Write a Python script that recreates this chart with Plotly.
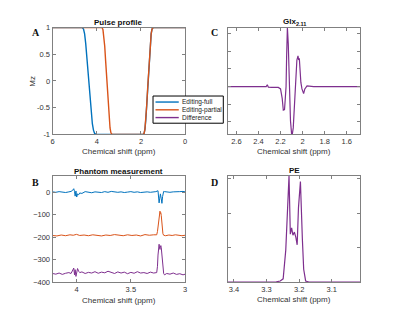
import plotly.graph_objects as go

# ---------------- data ----------------
# Panel A: pulse profile (Mz vs chemical shift)
a_full_x = [6, 4.66, 4.6, 4.55, 4.5, 4.45, 4.4, 4.35, 4.3, 4.25, 4.2, 4.15, 4.1, 4.04,
            1.9, 1.86, 1.82, 1.78, 1.74, 1.7, 1.66, 1.62, 1.58, 1.54, 1.5, 1.45, 0]
a_full_y = [1, 1, 0.97, 0.88, 0.7, 0.45, 0.2, -0.08, -0.35, -0.6, -0.8, -0.92, -0.98, -1,
            -1, -0.98, -0.9, -0.72, -0.45, -0.15, 0.15, 0.45, 0.7, 0.88, 0.97, 1, 1]
a_part_x = [6, 3.76, 3.72, 3.68, 3.64, 3.6, 3.56, 3.52, 3.48, 3.44, 3.4, 3.36, 3.31,
            1.9, 1.86, 1.82, 1.78, 1.74, 1.7, 1.66, 1.62, 1.58, 1.54, 1.5, 1.45, 0]
a_part_y = [1, 1, 0.96, 0.85, 0.65, 0.38, 0.1, -0.2, -0.48, -0.72, -0.88, -0.97, -1,
            -1, -0.98, -0.9, -0.72, -0.45, -0.15, 0.15, 0.45, 0.7, 0.88, 0.97, 1, 1]

# Panel B: phantom measurement
b_full_x = [4.22, 4.19, 4.16, 4.13, 4.1, 4.07, 4.05, 4.035, 4.025, 4.018, 4.012, 4.005,
            3.998, 3.99, 3.98, 3.97, 3.95, 3.92, 3.89, 3.86, 3.83, 3.8, 3.77, 3.74, 3.71,
            3.68, 3.65, 3.62, 3.59, 3.56, 3.53, 3.5, 3.47, 3.44, 3.41, 3.38, 3.35, 3.32,
            3.29, 3.27, 3.25, 3.245, 3.24, 3.235, 3.228, 3.22, 3.214, 3.208, 3.203, 3.198,
            3.19, 3.17, 3.14, 3.11, 3.08, 3.05, 3.02, 3.0]
b_full_y = [1, -1, 2, 0, -2, 1, 3, 8, 15, 2, -18, 5,
            -22, -8, -12, -4, -6, 2, -1, -3, 1, 0, -2, 2, -1,
            3, 0, -1, 1, -2, 0, 2, -1, 1, -2, 0, 1, -1,
            0, 2, 6, -25, -48, -30, -8, -30, -50, -20, 2, 3,
            2, 0, -1, 1, 0, 2, 3, 1]
b_part_x = [4.22, 4.18, 4.14, 4.1, 4.06, 4.03, 4.0, 3.97, 3.93, 3.89, 3.85, 3.81, 3.77,
            3.73, 3.69, 3.65, 3.61, 3.57, 3.53, 3.49, 3.45, 3.41, 3.37, 3.33, 3.29, 3.262,
            3.255, 3.248, 3.242, 3.236, 3.232, 3.228, 3.224, 3.22, 3.215, 3.21, 3.205,
            3.198, 3.18, 3.15, 3.12, 3.09, 3.06, 3.03, 3.0]
b_part_y = [-193, -195, -191, -194, -190, -192, -188, -193, -191, -194, -190, -192, -195,
            -191, -193, -189, -192, -194, -190, -193, -191, -195, -189, -192, -190, -190,
            -175, -140, -110, -95, -85, -95, -92, -105, -135, -165, -185,
            -192, -194, -191, -193, -190, -192, -194, -192]
b_diff_x = [4.22, 4.19, 4.16, 4.13, 4.1, 4.07, 4.05, 4.035, 4.025, 4.018, 4.012, 4.005,
            3.998, 3.99, 3.98, 3.97, 3.95, 3.92, 3.89, 3.86, 3.83, 3.8, 3.77, 3.74, 3.71,
            3.68, 3.65, 3.62, 3.59, 3.56, 3.53, 3.5, 3.47, 3.44, 3.41, 3.38, 3.35, 3.32,
            3.29, 3.262, 3.255, 3.25, 3.245, 3.24, 3.236, 3.232, 3.228, 3.224, 3.22, 3.215,
            3.21, 3.205, 3.198, 3.19, 3.17, 3.14, 3.11, 3.08, 3.05, 3.02, 3.0]
b_diff_y = [-362, -365, -360, -366, -361, -358, -362, -350, -338, -368, -345, -375,
            -348, -340, -352, -358, -355, -362, -357, -360, -354, -361, -356, -359, -352,
            -358, -362, -355, -360, -356, -363, -357, -361, -354, -360, -358, -362, -356,
            -360, -358, -330, -280, -240, -232, -250, -255, -245, -238, -248, -280,
            -320, -350, -362, -368, -362, -365, -360, -366, -363, -368, -365]

# Panel C: Glx 2.11 difference spectrum (a.u.)
c_x = [2.68, 2.4, 2.33, 2.32, 2.31, 2.28, 2.22, 2.2, 2.185, 2.175, 2.164, 2.157, 2.15,
       2.145, 2.138, 2.13, 2.12, 2.11, 2.1, 2.093, 2.085, 2.075, 2.063, 2.052, 2.042,
       2.036, 2.03, 2.024, 2.016, 2.006, 1.991, 1.98, 1.96, 1.9, 1.48]
c_y = [0.0, 0.0, 0.0, 0.03, -0.01, -0.015, -0.015, -0.04, -0.2, -0.4, -0.39, -0.2, 0.0,
       0.5, 1.0, 0.72, -0.04, -0.58, -0.8, -0.8, -0.7, -0.3, 0.02, 0.45, 0.52,
       0.45, 0.48, 0.23, 0.07, -0.04, -0.12, -0.04, 0.01, 0.0, 0.0]

# Panel D: PE difference spectrum (a.u.)
d_x = [3.42, 3.3, 3.27, 3.258, 3.249, 3.241, 3.236, 3.231, 3.227, 3.223, 3.219,
       3.2145, 3.21, 3.206, 3.202, 3.196, 3.19, 3.186, 3.18, 3.17, 3.1, 3.01]
d_y = [0.0, 0.0, 0.002, 0.01, 0.03, 0.3, 0.7, 1.0, 0.45, 0.51, 0.44,
       0.47, 0.42, 0.35, 0.7, 0.945, 0.4, 0.12, 0.01, 0.0, 0.0, 0.0]

series_names = ["Editing-full", "Editing-partial", "Difference"]
colors = ["#0072BD", "#D95319", "#7E2F8E"]

a_xticks = [6, 4, 2, 0]
a_yticks = [1, 0.5, 0, -0.5, -1]
b_xticks = [4, 3.5, 3]
b_yticks = [0, -100, -200, -300, -400]
c_xticks = [2.6, 2.4, 2.2, 2.0, 1.8, 1.6]
d_xticks = [3.4, 3.3, 3.2, 3.1]

# ---------------- figure ----------------
# The page body has an 8px margin, so the figure is drawn 8px in from the window edge.
OFF = 8
W, H = 400 - OFF, 322 - OFF
fig = go.Figure()

def px_x(p):
    return (p - OFF) / W

def px_y(p):
    return 1 - (p - OFF) / H

fig.add_trace(go.Scatter(x=a_full_x, y=a_full_y, mode="lines", name=series_names[0],
                         line=dict(color=colors[0], width=1.4), xaxis="x", yaxis="y"))
fig.add_trace(go.Scatter(x=a_part_x, y=a_part_y, mode="lines", name=series_names[1],
                         line=dict(color=colors[1], width=1.4), xaxis="x", yaxis="y"))

fig.add_trace(go.Scatter(x=b_full_x, y=b_full_y, mode="lines", name=series_names[0],
                         line=dict(color=colors[0], width=1), xaxis="x2", yaxis="y2"))
fig.add_trace(go.Scatter(x=b_part_x, y=b_part_y, mode="lines", name=series_names[1],
                         line=dict(color=colors[1], width=1), xaxis="x2", yaxis="y2"))
fig.add_trace(go.Scatter(x=b_diff_x, y=b_diff_y, mode="lines", name=series_names[2],
                         line=dict(color=colors[2], width=1), xaxis="x2", yaxis="y2"))

fig.add_trace(go.Scatter(x=c_x, y=c_y, mode="lines", name=series_names[2],
                         line=dict(color=colors[2], width=1.2), xaxis="x3", yaxis="y3"))
fig.add_trace(go.Scatter(x=d_x, y=d_y, mode="lines", name=series_names[2],
                         line=dict(color=colors[2], width=1.2), xaxis="x4", yaxis="y4"))

FONT = "Liberation Sans, Arial, sans-serif"
tickfont = dict(family=FONT, size=7.5, color="#333333")
axis_common = dict(showline=True, linecolor="#808080", linewidth=1, mirror="ticks",
                   ticks="inside", ticklen=3, tickcolor="#808080", tickfont=tickfont,
                   showgrid=False, zeroline=False, fixedrange=True)

dom_left = [px_x(51), px_x(185)]
dom_right = [px_x(228), px_x(362)]
dom_top = [px_y(134), px_y(24)]
dom_bot = [px_y(286), px_y(176.5)]

fig.update_layout(
    width=W, height=H, margin=dict(l=0, r=0, t=0, b=0),
    paper_bgcolor="white", plot_bgcolor="white",
    showlegend=False,
    xaxis=dict(domain=dom_left, anchor="y", range=[6, 0], tickvals=a_xticks, **axis_common),
    yaxis=dict(domain=dom_top, anchor="x", range=[-1, 1], tickvals=a_yticks,
               ticktext=["1", "0.5", "0", "-0.5", "-1"], **axis_common),
    xaxis2=dict(domain=dom_left, anchor="y2", range=[4.22, 3.0], tickvals=b_xticks,
                ticktext=["4", "3.5", "3"], **axis_common),
    yaxis2=dict(domain=dom_bot, anchor="x2", range=[-400, 73], tickvals=b_yticks, **axis_common),
    xaxis3=dict(domain=dom_right, anchor="y3", range=[2.678, 1.477], tickvals=c_xticks,
                ticktext=["2.6", "2.4", "2.2", "2", "1.8", "1.6"], **axis_common),
    yaxis3=dict(domain=dom_top, anchor="x3", range=[-0.81, 1.0], tick0=0, dtick=0.3,
                showticklabels=False, **axis_common),
    xaxis4=dict(domain=dom_right, anchor="y4", range=[3.419, 3.012], tickvals=d_xticks,
                **axis_common),
    yaxis4=dict(domain=dom_bot, anchor="x4", range=[0, 1.0], tick0=0, dtick=0.323,
                showticklabels=False, **axis_common),
)

# ---- compact MATLAB-style legend (box, sample lines, labels) ----
shapes = [dict(type="rect", xref="paper", yref="paper",
               x0=px_x(152.5), x1=px_x(223.5), y0=px_y(122.5), y1=px_y(94.5),
               line=dict(color="#000000", width=1), fillcolor="white", layer="above")]
legend_rows = [100.7, 108.7, 116.7]
ann = []
for name, col, yy in zip(series_names, colors, legend_rows):
    shapes.append(dict(type="line", xref="paper", yref="paper",
                       x0=px_x(155), x1=px_x(178.5), y0=px_y(yy), y1=px_y(yy),
                       line=dict(color=col, width=1.4), layer="above"))
    ann.append(dict(text=name, x=px_x(180), y=px_y(yy), xref="paper", yref="paper",
                    showarrow=False, xanchor="left", yanchor="middle",
                    font=dict(family=FONT, size=6.5, color="#222222")))
fig.update_layout(shapes=shapes)

title_font = dict(family=FONT, size=8, color="#111111")
label_font = dict(family=FONT, size=8, color="#333333")
letter_font = dict(family="Liberation Serif, Times New Roman, serif", size=10, color="#111111")

def add_text(text, x, y, font, angle=0):
    ann.append(dict(text=text, x=px_x(x), y=px_y(y), xref="paper", yref="paper",
                    showarrow=False, font=font, xanchor="center", yanchor="middle",
                    textangle=angle))

add_text("<b>Pulse profile</b>", 118, 19, title_font)
add_text("<b>Glx<sub>2.11</sub></b>", 295, 18, title_font)
add_text("<b>Phantom measurement</b>", 118, 172, title_font)
add_text("<b>PE</b>", 295, 171, title_font)
add_text("Chemical shift (ppm)", 118, 151.5, label_font)
add_text("Chemical shift (ppm)", 295, 151.5, label_font)
add_text("Chemical shift (ppm)", 118, 305, label_font)
add_text("Chemical shift (ppm)", 295, 304, label_font)
add_text("Mz", 31, 79, label_font, angle=-90)
add_text("<b>A</b>", 34, 29, letter_font)
add_text("<b>B</b>", 34, 184, letter_font)
add_text("<b>C</b>", 215, 29, letter_font)
add_text("<b>D</b>", 215, 184, letter_font)
fig.update_layout(annotations=ann)

fig.write_html("out.html")
